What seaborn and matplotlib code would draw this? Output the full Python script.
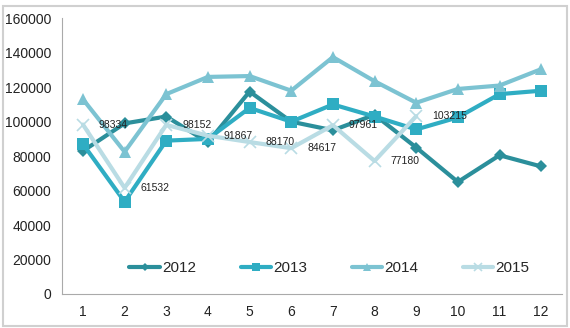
import matplotlib
matplotlib.use("Agg")
import matplotlib.pyplot as plt
import matplotlib.patches as mpatches
import seaborn as sns
import pandas as pd
import numpy as np

months = list(range(1, 13))
sales_2012 = [83000, 99000, 103000, 88000, 117500, 100000, 95000, 104000, 85000, 65000, 80500, 74000]
sales_2013 = [87000, 53500, 89000, 90000, 108000, 100000, 110000, 103000, 95500, 102500, 116000, 118000]
sales_2014 = [113000, 82500, 116000, 126000, 126500, 118000, 137500, 123500, 111000, 119000, 121000, 130500]
sales_2015 = [98334, 61532, 98152, 91867, 88170, 84617, 97961, 77180, 103215]
years = ["2012", "2013", "2014", "2015"]

colors = {"2012": "#2b8f9b", "2013": "#2fadc3", "2014": "#7cc3d2", "2015": "#b9dce4"}
markers = {"2012": "D", "2013": "s", "2014": "^", "2015": "x"}
msizes = {"2012": 6, "2013": 9, "2014": 9, "2015": 9}

rows = []
for year, vals in zip(years, [sales_2012, sales_2013, sales_2014, sales_2015]):
    for m, v in zip(months, vals):
        rows.append({"month": m, "year": year, "value": v})
df = pd.DataFrame(rows)

sns.set_style("white")
plt.rcParams["font.family"] = ["Liberation Sans", "DejaVu Sans"]

fig = plt.figure(figsize=(5.70, 3.28), dpi=100)
ax = fig.add_axes([0.109, 0.104, 0.877, 0.84])

# categorical positions: month m at index m-1
df["pos"] = df["month"] - 1
for year in years:
    sub = df[df["year"] == year]
    sns.lineplot(data=sub, x="pos", y="value", ax=ax, color=colors[year],
                 linewidth=3, marker=markers[year], markersize=msizes[year],
                 markeredgecolor=colors[year], markeredgewidth=1.2 if year == "2015" else 0,
                 label=year, legend=False)

# value labels for 2015
for i, v in enumerate(sales_2015):
    ax.text(i + 0.38, v, f"{v}", fontsize=7.5, color="#222222", va="center", ha="left")

ax.set_xlim(-0.5, 11.5)
ax.set_ylim(0, 160000)
yt = np.arange(0, 160001, 20000)
ax.set_yticks(yt)
ax.set_yticklabels([str(int(t)) for t in yt], fontsize=10, color="#222222")
ax.set_xticks(range(12))
ax.set_xticklabels([str(m) for m in months], fontsize=10, color="#222222")
ax.set_xticks(np.arange(-0.5, 12, 1), minor=True)
ax.tick_params(axis="x", which="major", length=0, pad=8)
ax.tick_params(axis="x", which="minor", length=4, color="#aaaaaa", width=0.8, direction="out")
ax.tick_params(axis="y", length=4, color="#aaaaaa", width=0.8, direction="out", pad=4)
ax.set_xlabel("")
ax.set_ylabel("")
for s in ["top", "right"]:
    ax.spines[s].set_visible(False)
for s in ["left", "bottom"]:
    ax.spines[s].set_color("#aaaaaa")
    ax.spines[s].set_linewidth(0.8)

handles, labels = ax.get_legend_handles_labels()
leg = ax.legend(handles, labels, loc="center", bbox_to_anchor=(0.535, 0.094), ncol=4,
                frameon=False, fontsize=11, handlelength=2.0, columnspacing=2.9,
                handletextpad=0.15, markerscale=0.7, borderpad=0)

# outer frame around the figure
fig.patches.append(mpatches.Rectangle((0.006, 0.006), 0.988, 0.975, transform=fig.transFigure,
                                      fill=False, edgecolor="#d0d0d0", linewidth=1.5))

fig.savefig("out.png", dpi=100)
